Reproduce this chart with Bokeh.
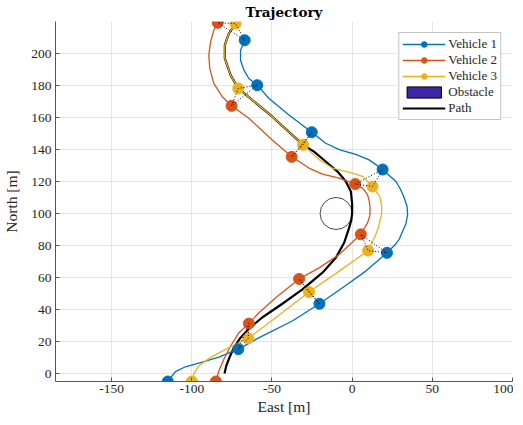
from bokeh.plotting import figure
from bokeh.models import Range1d, Legend, LegendItem, FixedTicker
from bokeh.embed import file_html
from bokeh.resources import INLINE

# ---- data ----
X_TICKS = [-150, -100, -50, 0, 50, 100]
Y_TICKS = [0, 20, 40, 60, 80, 100, 120, 140, 160, 180, 200]

# vehicle trajectories (East, North)
V1_X = [-115, -113.3, -110.2, -104, -93.5, -83.1, -71, -58, -37.3, -20.4, -6, 8.5, 21.7, 26.9, 29.4, 31.5, 33.5, 34.6, 34.2, 32.5, 30.2, 27.3, 19, 10.6, 2.3, -7.7, -16.5, -25.2, -39.4, -52, -59.2, -64.4, -67.5, -69.6, -69.6, -67]
V1_Y = [-5, -2.8, 1.2, 4.2, 7.1, 10.2, 15.2, 22.4, 32.8, 43.6, 53.6, 64, 75.4, 80.6, 84, 88.9, 93.5, 99.3, 104.5, 109.7, 115, 120, 127.5, 133.5, 137, 139.8, 143.9, 150.8, 161.6, 172, 180.2, 184.4, 189.6, 195.8, 202, 208.3]

V2_X = [-85, -83.1, -80, -75.8, -70.6, -64.4, -58.1, -47.7, -33.1, -20.6, -8.1, 5.4, 9.6, 11, 11.2, 10.7, 9.6, 6.5, 1.9, -8.1, -18.5, -26.9, -33.1, -37.7, -49.8, -64.4, -75.2, -81, -86.3, -88.8, -89.4, -88.3, -86.3, -83.8]
V2_Y = [-5, 1.7, 8.9, 17.2, 25.5, 31.2, 38, 47.4, 59.1, 66, 74.4, 87, 94.1, 98.5, 103.4, 107.6, 111.8, 115.9, 118.4, 122.1, 124.6, 128.4, 132.5, 135.4, 146, 159.5, 167.3, 173, 181.3, 190.7, 199, 207.3, 214.5, 219.2]

V3_X = [-100, -98.8, -95.6, -89.4, -81, -72.7, -64.8, -47.7, -26.9, -8.1, 10, 13.8, 16, 17.3, 18.3, 18.5, 18, 17.3, 12.7, 6.5, -1.9, -12.3, -20.6, -30.6, -49.8, -71, -75.8, -79.4, -79.4, -76.9, -72.7]
V3_Y = [-5, -0.4, 4.8, 9.3, 14, 18.3, 22, 34.9, 50.9, 64, 76.8, 84.7, 90, 95.1, 99.5, 103.4, 107, 110.6, 116.9, 123.2, 125.9, 128.4, 133.6, 142.9, 160.5, 178.2, 186.5, 196.9, 205.2, 212.5, 218.7]

# reference path
PATH_X = [-79.6, -78.5, -76.5, -73.8, -69.6, -64.4, -56.1, -43.5, -31, -18.5, -10.2, -5, -1.9, -0.5, 0, 0, -0.8, -3.9, -9.1, -16.5, -23.8, -30.6, -49.8, -71, -75.8, -79.4, -79.4, -76.9, -72.7]
PATH_Y = [0, 4.8, 10, 16.2, 22.4, 28, 35, 43.6, 52.6, 63, 72.3, 81.7, 91, 96, 100.3, 106, 113.8, 120, 126.2, 132.5, 138.7, 142.9, 160.5, 178.2, 186.5, 196.9, 205.2, 212.5, 218.7]

# vehicle positions at sampled instants
M1_X = [-115, -71, -20.4, 21.7, 19, -25.2, -59.2, -67]
M1_Y = [-5, 15.2, 43.6, 75.4, 127.5, 150.8, 180.2, 208.3]
M2_X = [-85, -64.4, -33.1, 5.4, 1.9, -37.7, -75.2, -83.8]
M2_Y = [-5, 31.2, 59.1, 87, 118.4, 135.4, 167.3, 219.2]
M3_X = [-100, -64.8, -26.9, 10, 12.7, -30.6, -71, -72.7]
M3_Y = [-5, 22, 50.9, 76.8, 116.9, 142.9, 178.2, 218.7]

# obstacle
OBS_X = [-10]
OBS_Y = [100]
OBS_R = [10]

C1, C2, C3 = "#0072BD", "#D95319", "#EDB120"
FONT = "Liberation Serif"
TXT = "#262626"

p = figure(frame_width=457, frame_height=360,
           x_range=Range1d(-185, 100), y_range=Range1d(-5, 220),
           output_backend="svg", toolbar_location=None,
           min_border_left=49, min_border_right=1, min_border_top=0, min_border_bottom=30,
           title="Trajectory")
p.outline_line_color = None
p.background_fill_color = "white"
p.border_fill_color = "white"

p.title.text_font = "DejaVu Serif"
p.title.text_font_style = "bold"
p.title.text_font_size = "13.5px"
p.title.align = "center"
p.title.text_color = "black"
p.title.standoff = 3

for ax in (p.xaxis[0], p.yaxis[0]):
    ax.major_tick_in = 4
    ax.major_tick_out = 0
    ax.minor_tick_in = 0
    ax.minor_tick_out = 0
    ax.axis_line_color = "#555555"
    ax.major_tick_line_color = "#555555"
    ax.major_label_text_font = FONT
    ax.major_label_text_font_size = "13.5px"
    ax.major_label_text_color = TXT
    ax.axis_label_text_font = FONT
    ax.axis_label_text_font_size = "15.5px"
    ax.axis_label_text_font_style = "normal"
    ax.axis_label_text_color = TXT

p.xaxis[0].ticker = FixedTicker(ticks=X_TICKS)
p.yaxis[0].ticker = FixedTicker(ticks=Y_TICKS)
p.xaxis[0].major_label_overrides = {t: str(t) for t in X_TICKS}
p.yaxis[0].major_label_overrides = {t: str(t) for t in Y_TICKS}
p.xaxis[0].axis_label = "East [m]"
p.yaxis[0].axis_label = "North [m]"
p.xaxis[0].major_label_standoff = 3
p.xaxis[0].axis_label_standoff = 2
p.yaxis[0].major_label_standoff = 4
p.yaxis[0].axis_label_standoff = 8

p.grid.grid_line_color = "#e4e4e4"
p.xgrid.ticker = FixedTicker(ticks=X_TICKS)
p.ygrid.ticker = FixedTicker(ticks=Y_TICKS)

# obstacle drawn
p.circle(x=OBS_X, y=OBS_Y, radius=OBS_R, fill_color=None, line_color="#4a4a4a", line_width=1)

# path
path_r = p.line(PATH_X, PATH_Y, line_color="black", line_width=2.2, line_join="round")

# vehicle trajectories
l1 = p.line(V1_X, V1_Y, line_color=C1, line_width=1.3, line_join="round")
l2 = p.line(V2_X, V2_Y, line_color=C2, line_width=1.3, line_join="round")
l3 = p.line(V3_X, V3_Y, line_color=C3, line_width=1.3, line_join="round")

s1 = p.scatter(M1_X, M1_Y, size=11, fill_color=C1, line_color=C1)
s2 = p.scatter(M2_X, M2_Y, size=11, fill_color=C2, line_color=C2)
s3 = p.scatter(M3_X, M3_Y, size=11, fill_color=C3, line_color=C3)

# formation connectors
xs, ys = [], []
for i in range(len(M1_X)):
    xs.append([M1_X[i], M2_X[i], M3_X[i], M1_X[i]])
    ys.append([M1_Y[i], M2_Y[i], M3_Y[i], M1_Y[i]])
p.multi_line(xs, ys, line_color="black", line_width=1, line_dash="1 2")

# legend-only obstacle patch (no visible geometry)
nan = float("nan")
obs_leg = p.quad(left=[nan], right=[nan], top=[nan], bottom=[nan],
                 fill_color="#3E26A8", line_color="black", line_width=1)

legend = Legend(items=[
    LegendItem(label="Vehicle 1", renderers=[l1, s1]),
    LegendItem(label="Vehicle 2", renderers=[l2, s2]),
    LegendItem(label="Vehicle 3", renderers=[l3, s3]),
    LegendItem(label="Obstacle", renderers=[obs_leg]),
    LegendItem(label="Path", renderers=[path_r]),
], location="top_right")
legend.label_text_font = FONT
legend.label_text_font_size = "13px"
legend.label_text_color = TXT
legend.glyph_width = 43
legend.glyph_height = 14
legend.label_height = 14
legend.label_standoff = 3
legend.spacing = 0
legend.padding = 3
legend.margin = 11
legend.border_line_color = "#8a8a8a"
legend.border_line_width = 1
legend.background_fill_alpha = 1
p.add_layout(legend)

open("out.html", "w").write(file_html(p, INLINE))
